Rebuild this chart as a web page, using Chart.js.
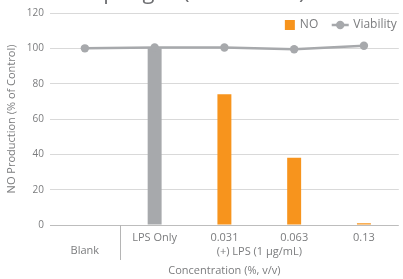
<!DOCTYPE html>
<html><head><meta charset="utf-8">
<script src="https://cdn.jsdelivr.net/npm/chart.js@4"></script>
<style>html,body{margin:0;padding:0;background:#fff;overflow:hidden}#wrap{width:403px;height:279px;position:relative}</style>
</head><body><div id="wrap"><canvas id="c"></canvas></div>
<script>
const categories = ['Blank', 'LPS Only', '0.031', '0.063', '0.13'];
const noValues = [0, 100, 74, 38, 1];
const viabilityValues = [100, 100.5, 100.5, 99.5, 101.5];
const yTicks = [0, 20, 40, 60, 80, 100, 120];
const groupLabel = '(+) LPS (1 µg/mL)';
const titleText = 'Macrophages (RAW 264.7)';
const xTitle = 'Concentration (%, v/v)';
const yTitle = 'NO Production (% of Control)';

const ORANGE = '#f7941d', GREY = '#a7a9ac', TEXT = '#7b7c7e', FONT = "'Open Sans', sans-serif";
const barColors = categories.map((c, i) => i === 1 ? GREY : ORANGE);

const extras = {
  id: 'extras',
  afterDraw(chart) {
    const { ctx, chartArea } = chart; const x = chart.scales.x;
    ctx.save();
    // separator between Blank and LPS groups
    const sx = Math.round((x.getPixelForValue(0) + x.getPixelForValue(1)) / 2) + 0.5;
    ctx.strokeStyle = '#b5b5b5'; ctx.lineWidth = 1;
    ctx.beginPath(); ctx.moveTo(sx, chartArea.bottom); ctx.lineTo(sx, chartArea.bottom + 35); ctx.stroke();
    // group label
    ctx.fillStyle = TEXT; ctx.font = "11px " + FONT; ctx.textAlign = 'center'; ctx.textBaseline = 'middle';
    ctx.fillText(groupLabel, (x.getPixelForValue(1) + x.getPixelForValue(4)) / 2, chartArea.bottom + 27);
    // legend inside the plot area, top right
    const ds = chart.data.datasets;
    const bar = ds.find(d => d.type === 'bar'), line = ds.find(d => d.type === 'line');
    ctx.font = "12px " + FONT; ctx.textAlign = 'left'; ctx.textBaseline = 'middle';
    const ly = chartArea.top + 12;
    const vW = ctx.measureText(line.label).width;
    const vx = chartArea.right - 2 - vW;            // text start of Viability
    ctx.fillStyle = TEXT; ctx.fillText(line.label, vx, ly);
    const mx = vx - 13;                              // marker centre
    ctx.strokeStyle = line.borderColor; ctx.lineWidth = 2.5;
    ctx.beginPath(); ctx.moveTo(mx - 8.5, ly); ctx.lineTo(mx + 8.5, ly); ctx.stroke();
    ctx.fillStyle = line.borderColor; ctx.beginPath(); ctx.arc(mx, ly, 4.2, 0, Math.PI * 2); ctx.fill();
    const nW = ctx.measureText(bar.label).width;
    const nx = mx - 22 - nW;
    ctx.fillStyle = TEXT; ctx.fillText(bar.label, nx, ly);
    ctx.fillStyle = ORANGE; ctx.fillRect(nx - 15, ly - 5, 10, 10);
    // cropped title
    ctx.font = "22px " + FONT; ctx.textAlign = 'center'; ctx.textBaseline = 'alphabetic'; ctx.fillStyle = '#6d6e71';
    ctx.fillText(titleText, 172, -1);
    ctx.restore();
  }
};

new Chart(document.getElementById('c'), {
  data: {
    labels: categories,
    datasets: [
      { type: 'line', label: 'Viability', data: viabilityValues, borderColor: GREY, backgroundColor: GREY, borderWidth: 2.5, pointRadius: 4.2, pointHoverRadius: 4.2, pointBackgroundColor: GREY, pointBorderWidth: 0, tension: 0, order: 0 },
      { type: 'bar', label: 'NO', data: noValues, backgroundColor: barColors, borderWidth: 0, barPercentage: 0.2, categoryPercentage: 1, order: 1 }
    ]
  },
  options: {
    responsive: true, maintainAspectRatio: false, animation: false,
    layout: { padding: { top: 13, right: 3, left: 0, bottom: 0 } },
    plugins: {
      tooltip: { enabled: false },
      legend: { display: false }
    },
    scales: {
      x: {
        grid: { display: false, drawTicks: false }, border: { display: false },
        ticks: { color: TEXT, font: { family: FONT, size: 11 }, padding: 6, maxRotation: 0, autoSkip: false,
          callback: function (v, i) { const l = categories[i]; return i === 0 ? ['', l] : l; } },
        title: { display: true, text: xTitle, color: TEXT, font: { family: FONT, size: 11 }, padding: { top: 0, bottom: 2 } },
        afterFit: s => { s.height = 54; }
      },
      y: {
        min: 0, max: 120,
        afterBuildTicks: s => { s.ticks = yTicks.map(v => ({ value: v })); },
        grid: { color: ctx => ctx.tick && ctx.tick.value === 0 ? '#bdbdbd' : '#d9d9d9', drawTicks: false, lineWidth: 1 },
        border: { display: false },
        ticks: { color: TEXT, font: { family: FONT, size: 10 }, padding: 6 },
        title: { display: true, text: yTitle, color: TEXT, font: { family: FONT, size: 11 }, padding: { top: 5, bottom: 0 } },
        afterFit: s => { s.width = 50; }
      }
    }
  },
  plugins: [extras]
});
</script></body></html>
